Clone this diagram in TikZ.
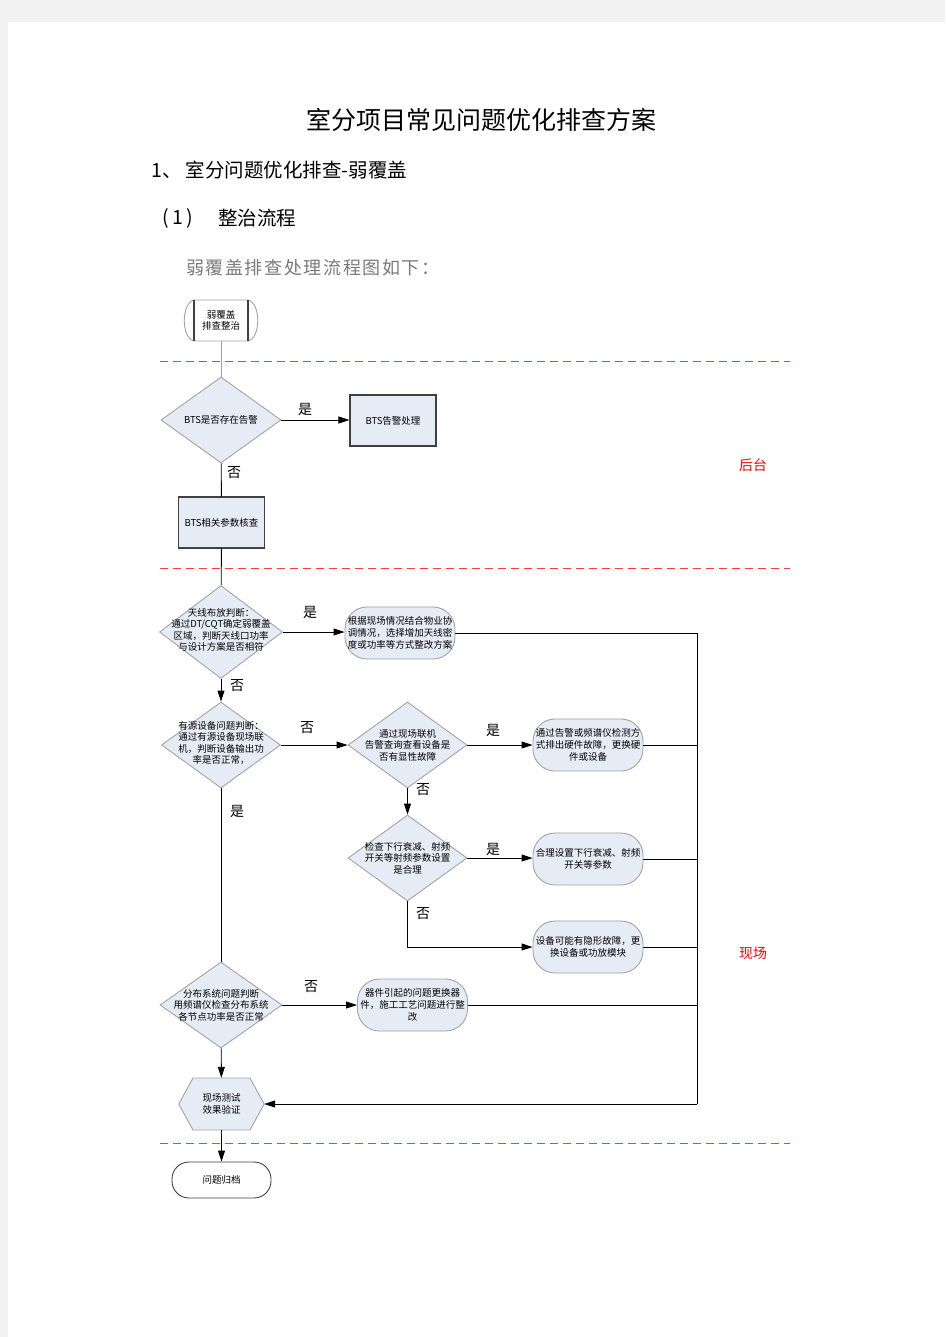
\documentclass[tikz,border=0pt]{standalone}
\usepackage{fontspec}
\setmainfont{Noto Sans CJK SC}
\usetikzlibrary{shapes.geometric,arrows.meta}
\definecolor{pagegray}{HTML}{F2F2F2}
\definecolor{boxfill}{HTML}{E6ECF6}
\definecolor{boxline}{HTML}{A3A3A3}
\definecolor{darkline}{HTML}{404040}
\definecolor{txtgray}{HTML}{7A7A7A}
\definecolor{dashred}{HTML}{FF3B3B}
\makeatletter
\newcommand\lsp[1]{\@tfor\lspc:=#1\do{\lspc\kern1.6pt}}
\makeatother
\tikzset{
  dia/.style={diamond,draw=boxline,fill=boxfill,line width=0.9pt,inner sep=0pt,minimum width=#1},
  dtext/.style={align=center,font=\fontsize{9.5}{11.5}\selectfont,inner sep=0pt},
  pill/.style={draw=boxline,fill=boxfill,line width=0.9pt,rounded corners=22pt,minimum width=110pt,minimum height=52pt,align=center,font=\fontsize{9.5}{12}\selectfont,inner sep=0pt},
  proc/.style={draw=darkline,fill=boxfill,line width=1.1pt,minimum width=86pt,minimum height=51pt,align=center,font=\fontsize{9.5}{11.5}\selectfont,inner sep=0pt},
  arr/.style={-{Triangle[length=11pt,width=7pt]},line width=0.9pt},
  ln/.style={line width=0.9pt},
  yn/.style={font=\fontsize{14}{14}\selectfont,inner sep=0pt},
  zone/.style={font=\fontsize{14}{14}\selectfont,text=red,inner sep=0pt},
  sep/.style={dashred,line width=1pt,dash pattern=on 8pt off 5pt}
}
\begin{document}
\begin{tikzpicture}[x=1pt,y=-1pt]
\useasboundingbox (0,0) rectangle (945,1337);
\fill[pagegray] (0,0) rectangle (945,1337);
\fill[white] (8,22) rectangle (945,1337);
% headings
\node[font=\fontsize{25}{25}\selectfont,inner sep=0pt] (title) at (481,120) {室分项目常见问题优化排查方案};
\node[font=\fontsize{19.5}{20}\selectfont,inner sep=0pt,anchor=west] (h1) at (151,170) {1、 室分问题优化排查-弱覆盖};
\node[font=\fontsize{19.5}{20}\selectfont,inner sep=0pt] (h2a) at (178,218) {(\,1\,)};
\node[font=\fontsize{19.5}{20}\selectfont,inner sep=0pt,anchor=west] (h2b) at (218,218) {整治流程};
\node[font=\fontsize{18}{18}\selectfont,text=txtgray,inner sep=0pt,anchor=west] (intro) at (186,268) {\lsp{弱覆盖排查处理流程图如下：}};
% separators
\draw[sep] (160,361) -- (790,361);
\draw[sep] (160,568) -- (790,568);
\draw[sep] (160,1143) -- (790,1143);
\node[zone] (zb) at (753,465) {后台};
\node[zone] (zx) at (753,953) {现场};
% start
\node[minimum width=74pt,minimum height=41pt,inner sep=0pt] (start) at (221,320.5) {};
\draw[boxline,fill=white,line width=0.9pt] (194,300) -- (248,300) .. controls (261,303) and (261,338) .. (248,341) -- (194,341) .. controls (181,338) and (181,303) .. (194,300) -- cycle;
\draw[darkline,line width=1.1pt] (194,300) -- (194,341) (248,300) -- (248,341);
\node[dtext] (startt) at (start) {弱覆盖\\排查整治};
% diamond 1
\node[dia=120pt,minimum height=86pt] (d1) at (221,420) {};
\node[dtext] (d1t) at (d1) {BTS是否存在告警};
\node[proc] (b1) at (393,420.5) {BTS告警处理};
\node[proc] (b2) at (221.5,522.5) {BTS相关参数核查};
% diamond 2
\node[dia=123pt,minimum height=93pt] (d2) at (221,632) {};
\node[dtext] (d2t) at (221,630) {天线布放判断：\\通过DT/CQT确定弱覆盖\\区域，判断天线口功率\\与设计方案是否相符};
\node[pill] (p1) at (400,633) {根据现场情况结合物业协\\调情况，选择增加天线密\\度或功率等方式整改方案};
% diamond 3
\node[dia=119pt,minimum height=86pt] (d3) at (221,745) {};
\node[dtext] (d3t) at (221,743) {有源设备问题判断：\\通过有源设备现场联\\机，判断设备输出功\\率是否正常，};
% diamond 4
\node[dia=119pt,minimum height=86pt] (d4) at (407.5,745) {};
\node[dtext] (d4t) at (d4) {通过现场联机\\告警查询查看设备是\\否有显性故障};
\node[pill] (p2) at (588,745) {通过告警或频谱仪检测方\\式排出硬件故障，更换硬\\件或设备};
% diamond 5
\node[dia=119pt,minimum height=86pt] (d5) at (407.5,858) {};
\node[dtext] (d5t) at (d5) {检查下行衰减、射频\\开关等射频参数设置\\是合理};
\node[pill] (p3) at (588,859) {合理设置下行衰减、射频\\开关等参数};
\node[pill] (p4) at (588,947) {设备可能有隐形故障，更\\换设备或功放模块};
% diamond 6
\node[dia=122pt,minimum height=86pt] (d6) at (221,1005) {};
\node[dtext] (d6t) at (d6) {分布系统问题判断\\用频谱仪检查分布系统\\各节点功率是否正常};
\node[pill] (p5) at (412.5,1005) {器件引起的问题更换器\\件，施工工艺问题进行整\\改};
% hexagon
\node[minimum width=85pt,minimum height=52pt,inner sep=0pt] (hex) at (221.5,1104) {};
\draw[boxline,fill=boxfill,line width=0.9pt] (hex.west) -- (193,1078) -- (250,1078) -- (hex.east) -- (250,1130) -- (193,1130) -- cycle;
\node[dtext] (hext) at (hex) {现场测试\\效果验证};
% end
\node[draw=darkline,fill=white,line width=0.9pt,rounded corners=17pt,minimum width=99pt,minimum height=36pt,inner sep=0pt,font=\fontsize{9.5}{11.5}\selectfont] (end) at (221.5,1180) {问题归档};
% right bus
\coordinate (rt) at (697,1104);
% connectors
\draw[boxline,line width=0.9pt] (start) -- (d1);
\draw[arr] (d1.east) -- (d1.east -| b1.west);
\draw[ln] (d1) -- (b2);
\draw[ln] (b2) -- (d2);
\draw[arr] (d2.east) -- (d2.east -| p1.west);
\draw[ln] (p1.east) -| (rt);
\draw[arr] (rt) -- (hex.east);
\draw[arr] (d2) -- (d3);
\draw[arr] (d3) -- (d4);
\draw[arr] (d4) -- (p2);
\draw[ln] (p2.east) -- (p2.east -| rt);
\draw[arr] (d4) -- (d5);
\draw[arr] (d5.east) -- (d5.east -| p3.west);
\draw[ln] (p3.east) -- (p3.east -| rt);
\draw[arr] (d5.south) |- (p4.west);
\draw[ln] (p4.east) -- (p4.east -| rt);
\draw[ln] (d3) -- (d6);
\draw[arr] (d6) -- (p5);
\draw[ln] (p5.east) -- (p5.east -| rt);
\draw[arr] (d6) -- (hex);
\draw[arr] (hex) -- (end);
% yes/no labels
\node[yn] (l1) at (305,409) {是};
\node[yn] (l2) at (234,473) {否};
\node[yn] (l3) at (310,612) {是};
\node[yn] (l4) at (237,686) {否};
\node[yn] (l5) at (307,728) {否};
\node[yn] (l6) at (493,730) {是};
\node[yn] (l7) at (423,790) {否};
\node[yn] (l8) at (493,849) {是};
\node[yn] (l9) at (423,914) {否};
\node[yn] (l10) at (237,811) {是};
\node[yn] (l11) at (311,987) {否};
\end{tikzpicture}
\end{document}
